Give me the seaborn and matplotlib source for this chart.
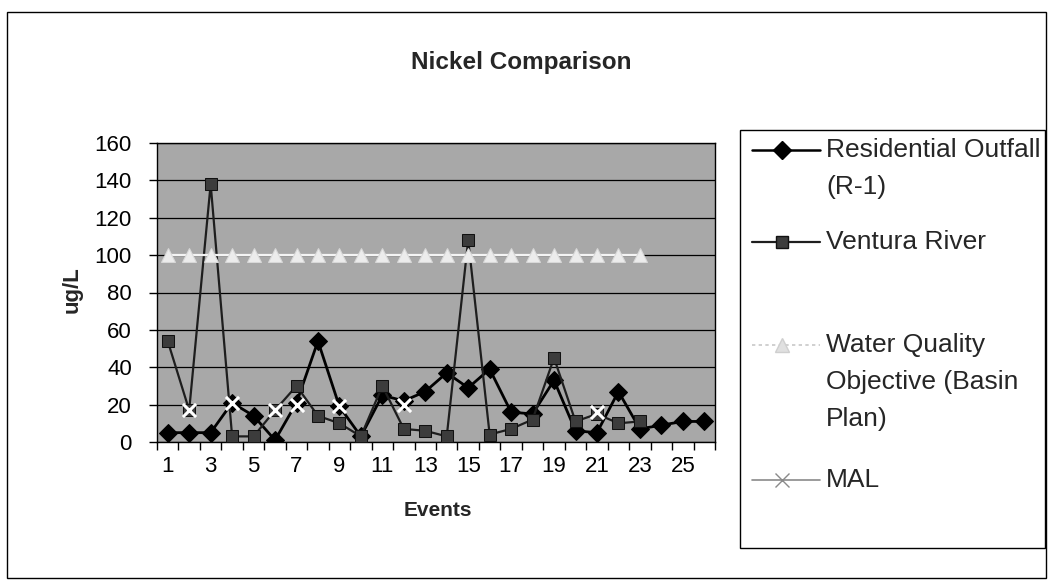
import numpy as np
import pandas as pd
import matplotlib
matplotlib.use("Agg")
import matplotlib.pyplot as plt
import seaborn as sns
from matplotlib.lines import Line2D
from matplotlib.patches import Rectangle

#=============================== DATA ===============================
events = list(range(1, 27))
residential = [5, 5, 5, 21, 14, 1, 21, 54, 19, 3, 25, 22, 27, 37, 29,
               39, 16, 15, 33, 6, 5, 27, 7, 9, 11, 11]
ventura = [54, 17, 138, 3, 3, 17, 30, 14, 10, 3, 30, 7, 6, 3, 108,
           4, 7, 12, 45, 11, 15, 10, 11, np.nan, np.nan, np.nan]
wqo = [100, 100, 100, 100, 100, 100, 100, 100, 100, 100, 100, 100, 100,
       100, 100, 100, 100, 100, 100, 100, 100, 100, 100, np.nan, np.nan, np.nan]
mal = [np.nan, 17, np.nan, 21, np.nan, 17, 20, np.nan, 19, np.nan, np.nan, 20,
       np.nan, np.nan, np.nan, np.nan, np.nan, np.nan, np.nan, np.nan, 16,
       np.nan, np.nan, np.nan, np.nan, np.nan]
y_ticks = [0, 20, 40, 60, 80, 100, 120, 140, 160]
x_tick_labels = [1, 3, 5, 7, 9, 11, 13, 15, 17, 19, 21, 23, 25]
legend_labels = [["Residential Outfall", "(R-1)"],
                 ["Ventura River"],
                 ["Water Quality", "Objective (Basin", "Plan)"],
                 ["MAL"]]

df = pd.DataFrame({"event": events, "res": residential, "ven": ventura,
                   "wqo": wqo, "mal": mal})

#=============================== STYLE ==============================
sns.set_theme(style="white")
plt.rcParams["font.family"] = ["Liberation Sans", "DejaVu Sans"]

W, H = 1051, 582
fig = plt.figure(figsize=(W / 100, H / 100), dpi=100)
fig.patch.set_facecolor("white")

# plot area in pixels: left 157, right 715, top 143, bottom 442
ax = fig.add_axes([157 / W, 1 - 442 / H, (715 - 157) / W, (442 - 143) / H])
ax.set_facecolor("#a8a8a8")

#=============================== SERIES =============================
sns.lineplot(data=df, x="event", y="res", ax=ax, color="black", lw=2,
             marker="D", markersize=9, markeredgecolor="black", zorder=3)
sns.lineplot(data=df, x="event", y="ven", ax=ax, color="#1e1e1e", lw=1.6,
             marker="s", markersize=8, markerfacecolor="#3c3c3c",
             markeredgecolor="#111111", zorder=4)
sns.lineplot(data=df, x="event", y="wqo", ax=ax, color="#f4f4f4", lw=1.6,
             marker="^", markersize=10, markerfacecolor="#ececec",
             markeredgecolor="#d8d8d8", zorder=5)
sns.scatterplot(data=df, x="event", y="mal", ax=ax, marker="x", s=90,
                color="white", linewidth=2.2, zorder=6)

#=============================== AXES ===============================
ax.set_xlim(0.5, 26.5)
ax.set_ylim(0, 160)
ax.set_yticks(y_ticks)
ax.set_xticks(x_tick_labels)
ax.set_xticklabels([str(v) for v in x_tick_labels])
ax.set_xticks(np.arange(0.5, 27, 1), minor=True)
ax.tick_params(axis="x", which="major", length=0, pad=10, labelsize=16,
               colors="black")
ax.tick_params(axis="x", which="minor", length=6, width=1, direction="out",
               color="black", bottom=True)
ax.tick_params(axis="y", which="major", length=6, width=1, direction="out",
               left=True, labelsize=16, colors="black", pad=12)
ax.yaxis.grid(True, color="black", lw=0.9)
ax.xaxis.grid(False)
for s in ax.spines.values():
    s.set_color("black")
    s.set_linewidth(1)
ax.set_xlabel("")
ax.set_ylabel("")

fig.text(72 / W, 1 - 290 / H, "ug/L", rotation=90, fontsize=16,
         fontweight="bold", ha="center", va="center")
fig.text(438 / W, 1 - 510 / H, "Events", fontsize=15, fontweight="bold",
         ha="center", va="center")
fig.text(521 / W, 1 - 62 / H, "Nickel Comparison", fontsize=17.5,
         fontweight="bold", ha="center", va="center")

#=============================== LEGEND =============================
handles = [
    dict(color="black", lw=1.8, marker="D", mfc="black", mec="black", ms=9),
    dict(color="#1e1e1e", lw=1.6, marker="s", mfc="#3c3c3c", mec="#111111", ms=8),
    dict(color="#c8c8c8", lw=1.2, ls=(0, (2, 2)), marker="^", mfc="#e0e0e0",
         mec="#cfcfcf", ms=10),
    dict(color="#8a8a8a", lw=1.2, marker="x", mfc="none", mec="#8a8a8a",
         ms=10, mew=1),
]
first_rows = [150, 242, 345, 480]
line_step = 37
for h, rows, y0 in zip(handles, legend_labels, first_rows):
    style = {k: v for k, v in h.items() if k not in ("marker", "mfc", "mec", "ms", "mew")}
    yy = 1 - y0 / H
    fig.add_artist(Line2D([752 / W, 820 / W], [yy, yy],
                          transform=fig.transFigure, **style))
    fig.add_artist(Line2D([782 / W], [yy], transform=fig.transFigure,
                          ls="none", marker=h["marker"], mfc=h["mfc"],
                          mec=h["mec"], ms=h["ms"], mew=h.get("mew", 1)))
    for k, txt in enumerate(rows):
        fig.text(826 / W, 1 - (y0 + k * line_step) / H, txt, fontsize=19,
                 ha="left", va="center")

fig.add_artist(Rectangle((740 / W, 1 - 548 / H), (1045 - 740) / W,
                         (548 - 130) / H, transform=fig.transFigure,
                         fill=False, edgecolor="black", lw=1))
# outer chart border
fig.add_artist(Rectangle((7 / W, 1 - 578 / H), (1046 - 7) / W, (578 - 12) / H,
                         transform=fig.transFigure, fill=False,
                         edgecolor="black", lw=1))

fig.savefig("out.png", dpi=100)
